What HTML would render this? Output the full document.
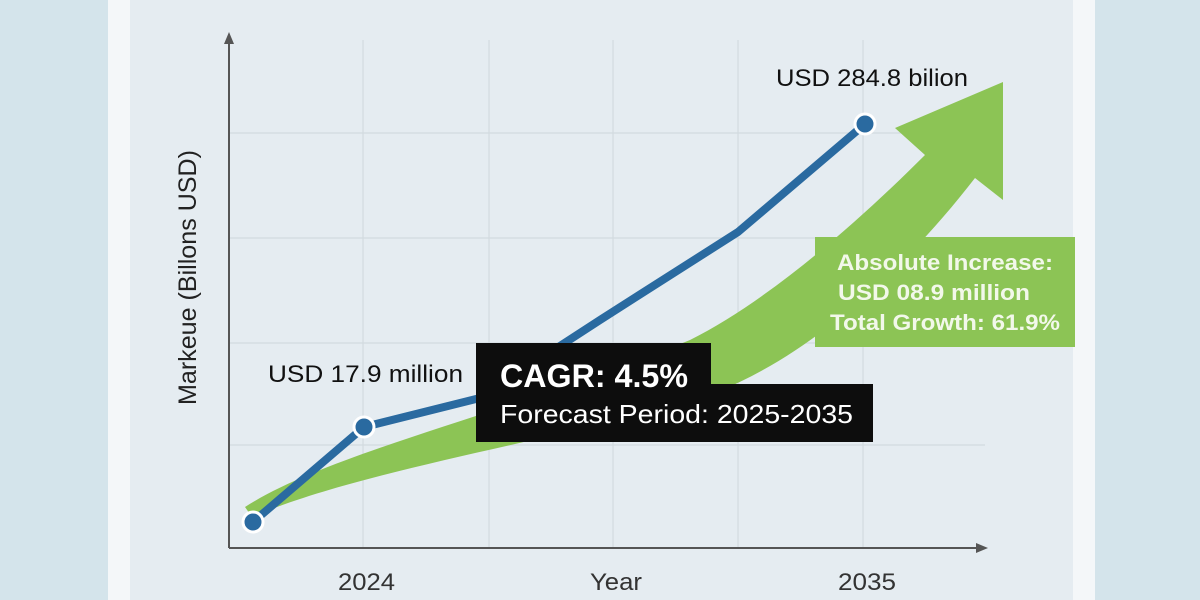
<!DOCTYPE html>
<html><head><style>
body{margin:0;width:1200px;height:600px;overflow:hidden;background:#d3e3ea;font-family:"Liberation Sans",sans-serif}
</style></head><body>
<svg width="1200" height="600" viewBox="0 0 1200 600" xmlns="http://www.w3.org/2000/svg" style="position:absolute;left:0;top:0">
<rect x="0" y="0" width="1200" height="600" fill="#d4e4eb"/>
<rect x="108" y="0" width="987" height="600" fill="#f4f7f9"/>
<rect x="130" y="0" width="943" height="600" fill="#e5ecf1"/>
<g stroke="#d2dae0" stroke-width="1.2">
<line x1="363" y1="40" x2="363" y2="548"/><line x1="489" y1="40" x2="489" y2="548"/>
<line x1="613" y1="40" x2="613" y2="548"/><line x1="738" y1="40" x2="738" y2="548"/>
<line x1="863" y1="40" x2="863" y2="548"/>
<line x1="229" y1="133" x2="985" y2="133"/><line x1="229" y1="238" x2="985" y2="238"/>
<line x1="229" y1="343" x2="985" y2="343"/><line x1="229" y1="445" x2="985" y2="445"/>
</g>
<g stroke="#555" stroke-width="2" fill="none">
<line x1="229" y1="40" x2="229" y2="548"/><line x1="229" y1="548" x2="982" y2="548"/>
</g>
<polygon points="229,32 224,44 234,44" fill="#555"/>
<polygon points="988,548 976,543 976,553" fill="#555"/>
<path d="M245,507 C330,452 520,410 690,340 C770,300 860,220 925,155 L895,128 L1003,82 L1003,200 L975,178 C900,275 800,365 700,398 C560,440 360,470 252,517 Z" fill="#8cc455"/>
<polyline points="253,522 364,427 480,398 600,320 738,232 865,124" fill="none" stroke="#2a6aa0" stroke-width="8" stroke-linejoin="round" stroke-linecap="round"/>
<g fill="#2a6aa0" stroke="#fff" stroke-width="3">
<circle cx="253" cy="522" r="10"/><circle cx="364" cy="427" r="10"/><circle cx="865" cy="124" r="10"/>
</g>
<rect x="815" y="237" width="260" height="110" fill="#8cc455"/>
<path d="M476,343 H711 V384 H873 V442 H476 Z" fill="#0d0d0d"/>
<g font-family="Liberation Sans, sans-serif">
<text x="196" y="405" transform="rotate(-90 196 405)" font-size="25" fill="#222" textLength="255" lengthAdjust="spacingAndGlyphs">Markeue (Billons USD)</text>
<text x="268" y="382" font-size="24" fill="#111" textLength="195" lengthAdjust="spacingAndGlyphs">USD 17.9 million</text>
<text x="776" y="86" font-size="24" fill="#111" textLength="192" lengthAdjust="spacingAndGlyphs">USD 284.8 bilion</text>
<text x="500" y="387" font-size="32" font-weight="bold" fill="#fff" textLength="188" lengthAdjust="spacingAndGlyphs">CAGR: 4.5%</text>
<text x="500" y="423" font-size="26" fill="#fff" textLength="353" lengthAdjust="spacingAndGlyphs">Forecast Period: 2025-2035</text>
<text x="837" y="270" font-size="22" font-weight="bold" fill="#f2f8ea" textLength="216" lengthAdjust="spacingAndGlyphs">Absolute Increase:</text>
<text x="838" y="300" font-size="22" font-weight="bold" fill="#f2f8ea" textLength="192" lengthAdjust="spacingAndGlyphs">USD 08.9 million</text>
<text x="830" y="330" font-size="22" font-weight="bold" fill="#f2f8ea" textLength="230" lengthAdjust="spacingAndGlyphs">Total Growth: 61.9%</text>
<text x="338" y="590" font-size="24" fill="#333" textLength="57" lengthAdjust="spacingAndGlyphs">2024</text>
<text x="590" y="590" font-size="24" fill="#333" textLength="52" lengthAdjust="spacingAndGlyphs">Year</text>
<text x="838" y="590" font-size="24" fill="#333" textLength="58" lengthAdjust="spacingAndGlyphs">2035</text>
</g>
</svg>
</body></html>
